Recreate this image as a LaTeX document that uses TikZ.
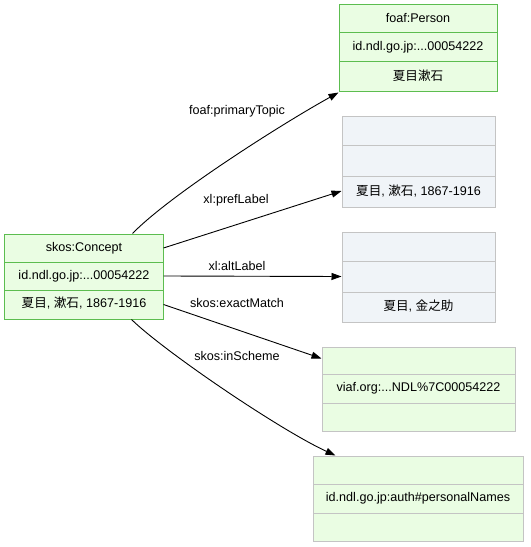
\documentclass[tikz,border=0pt]{standalone}
\usepackage{fontspec}
\setmainfont{Liberation Sans}
\newfontfamily\cjk{Noto Sans CJK JP}
\usetikzlibrary{arrows.meta}
\definecolor{gfill}{HTML}{EAFDE3}
\definecolor{gline}{HTML}{5CBD4F}
\definecolor{bfill}{HTML}{F0F4F8}
\definecolor{bline}{HTML}{C4C4C4}
\begin{document}
\begin{tikzpicture}[x=1bp,y=-1bp,
  font=\fontsize{12.6bp}{15bp}\selectfont,
  row/.style={draw, line width=1bp, inner sep=0pt, text height=9.5bp, text depth=2.6bp, anchor=center},
  greenrow/.style={row, draw=gline, fill=gfill},
  greyrow/.style={row, draw=bline, fill=bfill},
  mixrow/.style={row, draw=bline, fill=gfill},
  edge/.style={draw, line width=0.9bp, -{Triangle[length=10bp,width=7bp]}},
  elabel/.style={inner sep=0pt, text height=9.5bp, text depth=2.6bp}]
\useasboundingbox (0,0) rectangle (531,547);
% left node
\node[greenrow, minimum width=158bp, minimum height=28bp] (L1) at (84,248) {skos:Concept};
\node[greenrow, minimum width=158bp, minimum height=28bp] (L2) at (84,276) {id.ndl.go.jp:...00054222};
\node[greenrow, minimum width=158bp, minimum height=29bp] (L3) at (84,304.5) {{\cjk 夏目}, {\cjk 漱石}, 1867-1916};
% foaf:Person
\node[greenrow, minimum width=158bp, minimum height=28bp] (A1) at (418,19) {foaf:Person};
\node[greenrow, minimum width=158bp, minimum height=29bp] (A2) at (418,47.5) {id.ndl.go.jp:...00054222};
\node[greenrow, minimum width=158bp, minimum height=30bp] (A3) at (418,77) {\cjk 夏目漱石};
% prefLabel box
\node[greyrow, minimum width=153bp, minimum height=29bp] (B1) at (418.5,131.5) {};
\node[greyrow, minimum width=153bp, minimum height=31bp] (B2) at (418.5,161.5) {};
\node[greyrow, minimum width=153bp, minimum height=30bp] (B3) at (418.5,192) {{\cjk 夏目}, {\cjk 漱石}, 1867-1916};
% altLabel box
\node[greyrow, minimum width=153bp, minimum height=29bp] (C1) at (418.5,246.5) {};
\node[greyrow, minimum width=153bp, minimum height=31bp] (C2) at (418.5,276.5) {};
\node[greyrow, minimum width=153bp, minimum height=30bp] (C3) at (418.5,307) {{\cjk 夏目}, {\cjk 金之助}};
% viaf box
\node[mixrow, minimum width=193bp, minimum height=27bp] (D1) at (418.5,360.5) {};
\node[mixrow, minimum width=193bp, minimum height=29bp] (D2) at (418.5,388.5) {viaf.org:...NDL\%7C00054222};
\node[mixrow, minimum width=193bp, minimum height=28bp] (D3) at (418.5,417) {};
% scheme box
\node[mixrow, minimum width=210bp, minimum height=28bp] (E1) at (418,470) {};
\node[mixrow, minimum width=210bp, minimum height=29bp] (E2) at (418,498.5) {id.ndl.go.jp:auth\#personalNames};
\node[mixrow, minimum width=210bp, minimum height=28bp] (E3) at (418,527) {};
% edges
\draw[edge] ([xshift=-31bp]L1.north east) .. controls (170,195) and (280,125) .. (A3.south west);
\draw[edge] (L1.east) -- ([yshift=1bp]B3.west);
\draw[edge] (L2.east) -- (C2.west);
\draw[edge] (L3.east) -- ([yshift=2bp]D1.west);
\draw[edge] ([xshift=-32bp]L3.south east) .. controls (165,352) and (280,430) .. ([xshift=23bp]E1.north west);
% edge labels
\node[elabel] (t1) at (237,111) {foaf:primaryTopic};
\node[elabel] (t2) at (236,200) {xl:prefLabel};
\node[elabel] (t3) at (237,267) {xl:altLabel};
\node[elabel] (t4) at (237,304) {skos:exactMatch};
\node[elabel] (t5) at (237,357) {skos:inScheme};
\end{tikzpicture}
\end{document}
